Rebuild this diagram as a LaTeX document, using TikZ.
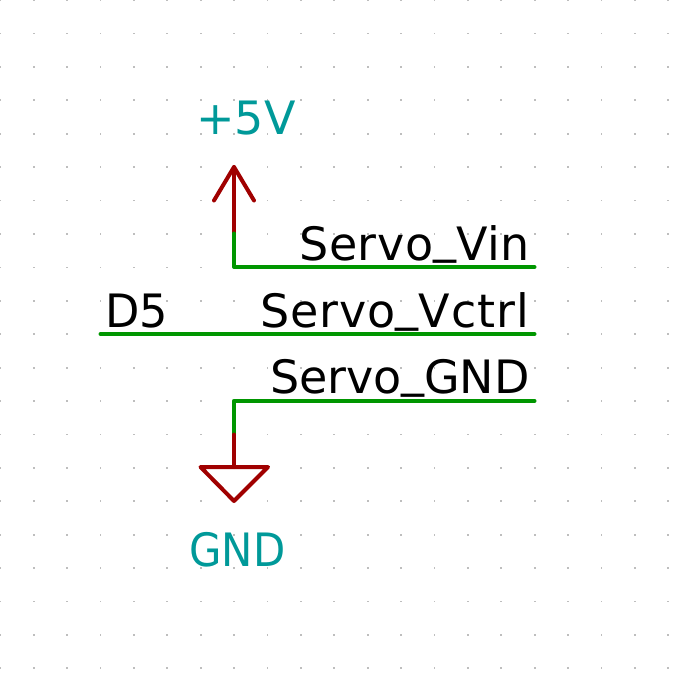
\documentclass[tikz,border=0pt]{standalone}
\usepackage{fontspec}
\setmainfont{DejaVu Sans}
\newfontfamily\narrowfont{DejaVu Sans}[FakeStretch=0.91]
\newfontfamily\midfont{DejaVu Sans}[FakeStretch=0.97]
\newfontfamily\wideletters{DejaVu Sans}[LetterSpace=2.2]
\newfontfamily\vinfont{DejaVu Sans}[LetterSpace=1.0]
\newfontfamily\gndfont{DejaVu Sans}[LetterSpace=-0.5]
\definecolor{wire}{RGB}{0,150,0}
\definecolor{pin}{RGB}{160,0,0}
\definecolor{power}{RGB}{0,153,153}
\definecolor{griddot}{RGB}{190,190,190}
\newcommand{\lowbar}{\raisebox{7pt}{\_}}
\tikzset{
  wireline/.style={draw=wire,line width=4pt,line cap=round,line join=round},
  pinline/.style={draw=pin,line width=4pt,line cap=round,line join=round},
  netlabel/.style={inner sep=0pt,outer sep=0pt,anchor=base east,text=black,font=\fontsize{46}{46}\selectfont},
  leftlabel/.style={netlabel,anchor=base west},
  powerlabel/.style={inner sep=0pt,outer sep=0pt,anchor=base,text=power,font=\fontsize{46}{46}\selectfont}
}
\begin{document}
\begin{tikzpicture}[x=1pt,y=-1pt]
\useasboundingbox (0,0) rectangle (700,700);
\foreach \i in {0,...,20}\foreach \j in {0,...,20}
  \fill[griddot] ({\i*33.4-0.7},{\j*33.4-0.7}) rectangle ({\i*33.4+1.1},{\j*33.4+1.1});
\coordinate (vtip) at (234,167);
\coordinate (vjoin) at (234,233.5);
\coordinate (vcorner) at (234,267);
\coordinate (vend) at (534.5,267);
\coordinate (al) at (214,200.5);
\coordinate (ar) at (254,200.5);
\coordinate (cstart) at (100.5,334);
\coordinate (cend) at (534.5,334);
\coordinate (gcorner) at (234,400.8);
\coordinate (gend) at (534.5,400.8);
\coordinate (gjoin) at (234,434.5);
\coordinate (gtop) at (234,467);
\coordinate (gl) at (200.5,467);
\coordinate (gr) at (268,467);
\coordinate (gtip) at (234,501);
\draw[pinline] (al) -- (vtip) -- (ar);
\draw[pinline] (vtip) -- (vjoin);
\draw[wireline] (vjoin) -- (vcorner) -- (vend);
\draw[wireline] (cstart) -- (cend);
\draw[wireline] (gjoin) -- (gcorner) -- (gend);
\draw[pinline] (gjoin) -- (gtop);
\draw[pinline] (gl) -- (gr) -- (gtip) -- cycle;
\node[netlabel] (vin) at (529.5,260) {\vinfont Servo\lowbar Vin};
\node[netlabel] (vctrl) at (529.5,327) {\wideletters Servo\lowbar Vctrl};
\node[netlabel] (gnd) at (529.5,393) {\gndfont Servo\lowbar GND};
\node[leftlabel] (d5) at (105,327) {\midfont D5};
\node[powerlabel] (pv) at (246,135) {+5V};
\node[powerlabel] (pg) at (237.5,566) {\narrowfont GND};
\end{tikzpicture}
\end{document}
